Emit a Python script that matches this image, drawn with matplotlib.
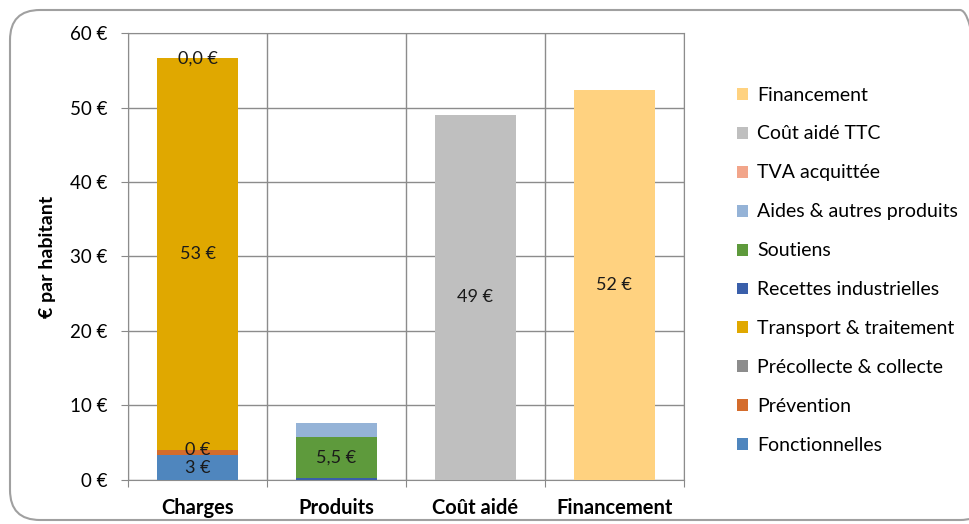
import numpy as np
import matplotlib.pyplot as plt
from matplotlib.patches import FancyBboxPatch

plt.rcParams['font.family'] = ['Lato', 'DejaVu Sans']

categories = ['Charges', 'Produits', 'Coût aidé', 'Financement']

# stacking order, bottom to top
series_names = ['Fonctionnelles', 'Prévention', 'Précollecte & collecte',
                'Transport & traitement', 'Recettes industrielles', 'Soutiens',
                'Aides & autres produits', 'TVA acquittée', 'Coût aidé TTC',
                'Financement']
series_colors = ['#4F86BE', '#D46C2C', '#8C8C8C', '#E0A800', '#3A5FAA',
                 '#5E9A3C', '#95B3D7', '#F2A58A', '#BFBFBF', '#FFD280']
series_values = [
    [3.3, 0, 0, 0],
    [0.7, 0, 0, 0],
    [0.0, 0, 0, 0],
    [52.6, 0, 0, 0],
    [0, 0.3, 0, 0],
    [0, 5.5, 0, 0],
    [0, 1.8, 0, 0],
    [0.0, 0, 0, 0],
    [0, 0, 49.0, 0],
    [0, 0, 0, 52.3],
]
# (series index, category index, label text)
bar_labels = [
    (0, 0, '3 €'), (2, 0, '0 €'), (3, 0, '53 €'), (7, 0, '0,0 €'),
    (5, 1, '5,5 €'), (8, 2, '49 €'), (9, 3, '52 €'),
]

fig = plt.figure(figsize=(9.7, 5.24), dpi=100)
# rounded chart border, in inches
border = FancyBboxPatch((0.10, 0.04), 9.8, 5.10, transform=fig.dpi_scale_trans,
                        boxstyle='round,pad=0,rounding_size=0.3',
                        facecolor='none', edgecolor='#A0A0A0', linewidth=1.5,
                        zorder=-1)
fig.patches.append(border)

ax = fig.add_axes([0.132, 0.084, 0.573, 0.853])
x = np.arange(len(categories))
bottom = np.zeros(len(categories))
bars = []
for name, color, vals in zip(series_names, series_colors, series_values):
    vals = np.array(vals, dtype=float)
    ax.bar(x, vals, 0.58, bottom=bottom, color=color, label=name, zorder=3)
    bars.append((bottom.copy(), vals))
    bottom += vals

for si, ci, txt in bar_labels:
    b0, v = bars[si]
    ax.text(x[ci], b0[ci] + v[ci] / 2, txt, ha='center', va='center',
            fontsize=13, color='#1a1a1a', zorder=4)

ax.set_xlim(-0.5, 3.5)
ax.set_ylim(0, 60)
ax.set_yticks(np.arange(0, 61, 10))
ax.set_yticklabels([f'{v} €' for v in range(0, 61, 10)], fontsize=13.5)
ax.set_xticks(np.arange(-0.5, 4, 1))
ax.set_xticklabels([])
ax.set_xticks(x, minor=True)
ax.set_xticklabels(categories, minor=True, fontsize=14.5, fontweight='bold')
ax.tick_params(axis='x', which='minor', length=0, pad=13)
ax.tick_params(axis='both', which='major', length=5, color='#888888')
ax.tick_params(axis='y', pad=10)
ax.grid(True, which='major', color='#8C8C8C', linewidth=1, zorder=0)
for s in ax.spines.values():
    s.set_color('#8C8C8C')
ax.set_ylabel('€ par habitant', fontsize=14, fontweight='bold', labelpad=10)

handles, labels = ax.get_legend_handles_labels()
fig.legend(handles[::-1], labels[::-1], loc='center left',
           bbox_to_anchor=(0.760, 0.484), frameon=False, fontsize=14,
           borderpad=0, borderaxespad=0,
           handlelength=0.57, handleheight=0.57, handletextpad=0.46,
           labelspacing=1.13)

fig.savefig('out.png', dpi=100)
